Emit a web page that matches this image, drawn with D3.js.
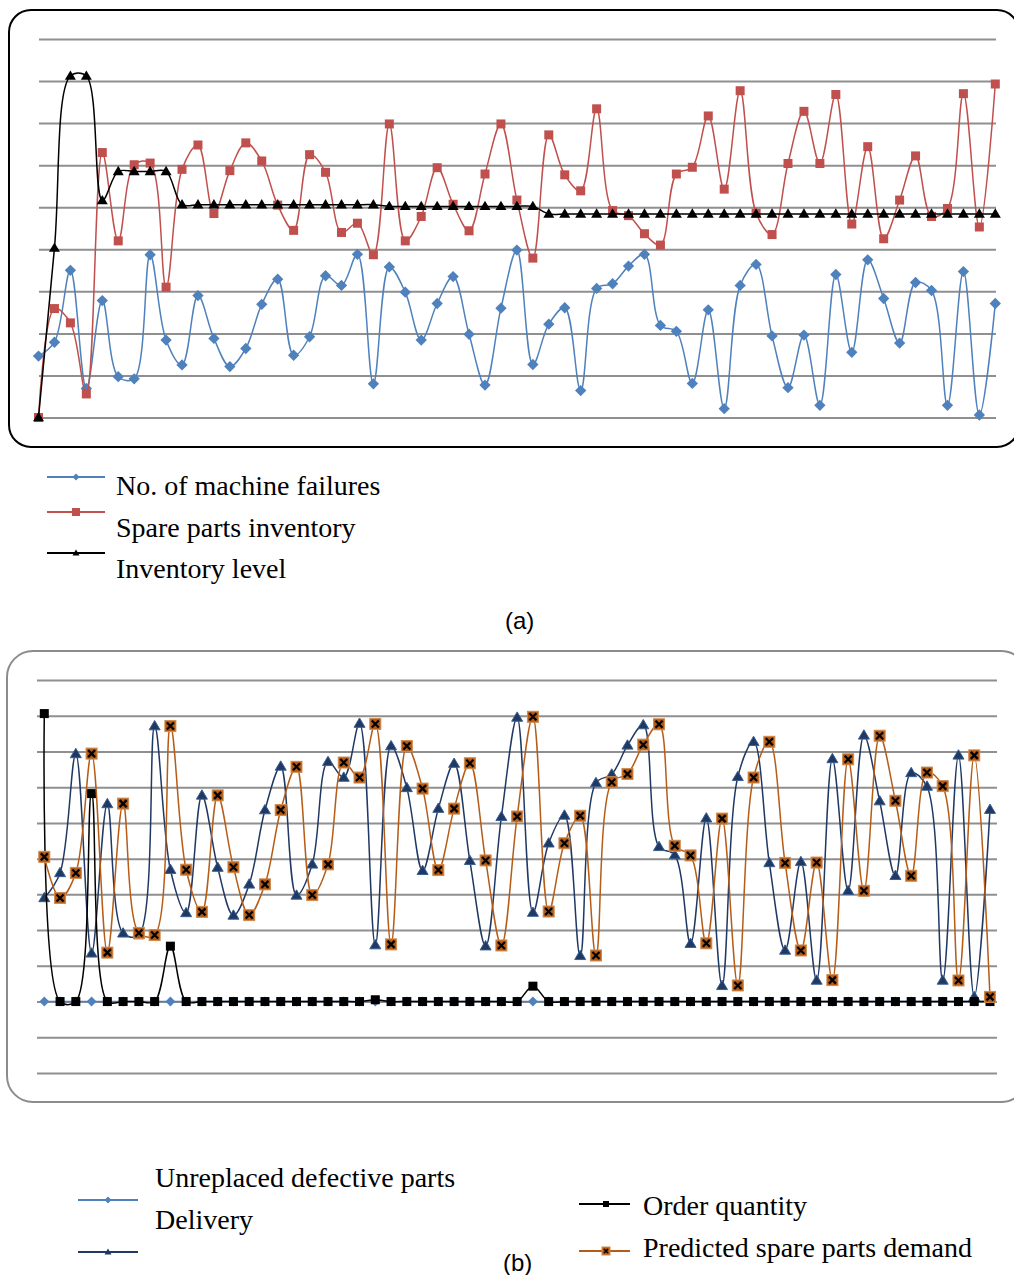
<!DOCTYPE html>
<html>
<head>
<meta charset="utf-8">
<script src="https://cdn.jsdelivr.net/npm/d3@7"></script>
<style>
  body { margin: 0; background: #fff; }
  svg { display: block; }
</style>
</head>
<body>
<div id="chart"></div>
<script>
// ---- data: panel (a), 61 periods ----
var failures = [1.46,1.79,3.50,0.69,2.78,0.97,0.92,3.87,1.84,1.25,
                2.90,1.88,1.21,1.64,2.69,3.29,1.48,1.92,3.37,3.14,
                3.88,0.80,3.58,2.98,1.84,2.71,3.35,1.98,0.77,2.60,
                3.98,1.26,2.22,2.61,0.64,3.07,3.18,3.60,3.88,2.19,
                2.05,0.81,2.56,0.21,3.14,3.64,1.94,0.71,1.96,0.29,
                3.40,1.55,3.75,2.83,1.77,3.21,3.02,0.29,3.47,0.06,2.71];
var spareInventory = [0,2.59,2.25,0.56,6.30,4.20,6.01,6.05,3.10,5.90,
                6.48,4.85,5.87,6.53,6.10,5.05,4.45,6.25,5.83,4.40,
                4.62,3.87,6.98,4.20,4.78,5.94,5.07,4.44,5.79,6.98,
                5.17,3.79,6.72,5.77,5.39,7.34,4.92,4.80,4.37,4.10,
                5.79,5.95,7.17,5.43,7.77,4.86,4.35,6.04,7.28,6.04,
                7.68,4.60,6.44,4.25,5.17,6.22,4.78,4.97,7.70,4.53,7.93];
var inventoryLevel = [0,4.03,8.12,8.12,5.16,5.85,5.85,5.85,5.85,5.06,
                5.06,5.06,5.06,5.06,5.06,5.06,5.06,5.06,5.06,5.06,
                5.06,5.06,5.02,5.02,5.02,5.02,5.02,5.02,5.02,5.02,
                5.02,5.02,4.84,4.84,4.84,4.84,4.84,4.84,4.84,4.84,
                4.84,4.84,4.84,4.84,4.84,4.84,4.84,4.84,4.84,4.84,
                4.84,4.84,4.84,4.84,4.84,4.84,4.84,4.84,4.84,4.84,4.84];

// ---- data: panel (b), 61 periods ----
var unreplaced = [0,0,0,0,0,0,0,0,0,0, 0,0,0,0,0,0,0,0,0,0,
                  0,0,0,0,0,0,0,0,0,0, 0,0,0,0,0,0,0,0,0,0,
                  0,0,0,0,0,0,0,0,0,0, 0,0,0,0,0,0,0,0,0,0,0];
var delivery = [2.90,3.60,6.93,1.35,5.53,1.91,1.86,7.71,3.69,2.48,
                5.77,3.75,2.41,3.28,5.36,6.58,2.97,3.84,6.71,6.27,
                7.78,1.58,7.15,5.98,3.66,5.40,6.66,3.94,1.55,5.17,
                7.95,2.49,4.43,5.21,1.28,6.12,6.36,7.17,7.74,4.33,
                4.10,1.62,5.13,0.44,6.29,7.27,3.88,1.43,3.91,0.59,
                6.79,3.10,7.45,5.61,3.52,6.40,6.02,0.59,6.89,0.13,5.37];
var orderQty = [8.06,0,0,5.82,0,0,0,0,1.55,0, 0,0,0,0,0,0,0,0,0,0,
                0,0.05,0,0,0,0,0,0,0,0, 0,0.43,0,0,0,0,0,0,0,0,
                0,0,0,0,0,0,0,0,0,0, 0,0,0,0,0,0,0,0,0,0,0];
var predictedDemand = [4.05,2.90,3.60,6.94,1.37,5.54,1.92,1.86,7.71,3.69,
                2.51,5.77,3.76,2.42,3.28,5.36,6.57,2.98,3.84,6.69,
                6.27,7.77,1.60,7.15,5.96,3.68,5.40,6.67,3.95,1.57,
                5.18,7.97,2.52,4.43,5.20,1.29,6.14,6.37,7.19,7.76,
                4.36,4.09,1.63,5.12,0.45,6.27,7.27,3.88,1.43,3.89,
                0.60,6.78,3.10,7.44,5.62,3.52,6.41,6.03,0.59,6.89,0.13];

var ticksA = [0,1,2,3,4,5,6,7,8,9];
var ticksB = [-2,-1,0,1,2,3,4,5,6,7,8,9];

var legendA = ["No. of machine failures", "Spare parts inventory", "Inventory level"];
var legendB = ["Unreplaced defective parts", "Delivery", "Order quantity", "Predicted spare parts demand"];

var palette = {
  blue: "#4f81bd",
  red: "#c0504d",
  black: "#000000",
  navy: "#1f3864",
  orange: "#b65c17",
  orangeFill: "#b35a14",
  grid: "#8f8f8f"
};

var width = 1014, height = 1275;
var svg = d3.select("#chart").append("svg")
    .attr("width", width).attr("height", height);

var serif = "'Liberation Serif', 'Times New Roman', serif";
var sans = "'Liberation Sans', Arial, sans-serif";

// centripetal catmull-rom keeps the overshoot small, like the spreadsheet smoothing
var curve = d3.curveCatmullRom.alpha(0.5);

function drawSeries(g, data, x, y, color, marker) {
  var line = d3.line()
    .x(function(d, i) { return x(i); })
    .y(function(d) { return y(d); })
    .curve(curve);
  g.append("path")
    .datum(data)
    .attr("d", line)
    .attr("fill", "none")
    .attr("stroke", color)
    .attr("stroke-width", 1.5);

  var m = g.selectAll(null).data(data).enter().append("g")
    .attr("transform", function(d, i) { return "translate(" + x(i) + "," + y(d) + ")"; });
  marker(m);
}

function diamondMarker(color, s) {
  return function(m) {
    m.append("rect")
      .attr("x", -s/2).attr("y", -s/2).attr("width", s).attr("height", s)
      .attr("transform", "rotate(45)")
      .attr("fill", color);
  };
}
function squareMarker(color, s, stroke) {
  return function(m) {
    m.append("rect")
      .attr("x", -s/2).attr("y", -s/2).attr("width", s).attr("height", s)
      .attr("fill", color)
      .attr("stroke", stroke || "none")
      .attr("stroke-width", 1);
  };
}
function triangleMarker(color, w, stroke) {
  var h = w * 0.85;
  return function(m) {
    m.append("path")
      .attr("d", "M0," + (-h*0.6) + "L" + (w/2) + "," + (h*0.4) + "L" + (-w/2) + "," + (h*0.4) + "Z")
      .attr("fill", color)
      .attr("stroke", stroke || "none")
      .attr("stroke-width", 1);
  };
}
function crossMarker(fill, s, sw) {
  return function(m) {
    m.append("rect")
      .attr("x", -s/2).attr("y", -s/2).attr("width", s).attr("height", s)
      .attr("fill", fill)
      .attr("stroke", "#d08a4e")
      .attr("stroke-width", 1);
    var c = s/2 - 2;
    m.append("path")
      .attr("d", "M" + (-c) + "," + (-c) + "L" + c + "," + c + "M" + c + "," + (-c) + "L" + (-c) + "," + c)
      .attr("stroke", "#000")
      .attr("stroke-width", sw || 2);
  };
}

// ===================== panel (a) =====================
svg.append("rect")
  .attr("x", 9).attr("y", 10).attr("width", 1010).attr("height", 437)
  .attr("rx", 22).attr("ry", 22)
  .attr("fill", "none").attr("stroke", "#000").attr("stroke-width", 2);

var xA = d3.scaleLinear().domain([0, 60]).range([38.5, 995.3]);
var yA = d3.scaleLinear().domain([0, 9]).range([417.5, 39]);

var gA = svg.append("g");
gA.append("g").attr("transform", "translate(39,0)")
  .call(d3.axisLeft(yA).tickValues(ticksA).tickSize(-957).tickFormat(""))
  .call(function(g) {
    g.select(".domain").remove();
    g.selectAll(".tick line").attr("stroke", palette.grid).attr("stroke-width", 2);
  });

drawSeries(gA, failures, xA, yA, palette.blue, diamondMarker(palette.blue, 8));
drawSeries(gA, spareInventory, xA, yA, palette.red, squareMarker(palette.red, 9));
drawSeries(gA, inventoryLevel, xA, yA, palette.black, triangleMarker(palette.black, 11));

// legend (a)
var legA = svg.append("g");
var legAy = [477, 512, 553];
var legAbase = [495, 537, 578];
var legAmark = [diamondMarker(palette.blue, 5), squareMarker(palette.red, 8), triangleMarker("#000", 7)];
var legAcol = [palette.blue, palette.red, palette.black];
legendA.forEach(function(t, k) {
  legA.append("line").attr("x1", 47).attr("x2", 105).attr("y1", legAy[k]).attr("y2", legAy[k])
    .attr("stroke", legAcol[k]).attr("stroke-width", 2);
  var m = legA.append("g").attr("transform", "translate(76," + legAy[k] + ")");
  legAmark[k](m);
  legA.append("text").attr("x", 116).attr("y", legAbase[k]).text(t)
    .attr("font-family", serif).attr("font-size", 28).attr("fill", "#000");
});

svg.append("text").attr("x", 505).attr("y", 629).text("(a)")
  .attr("font-family", sans).attr("font-size", 24).attr("fill", "#000");

// ===================== panel (b) =====================
svg.append("rect")
  .attr("x", 7).attr("y", 651).attr("width", 1020).attr("height", 451)
  .attr("rx", 26).attr("ry", 26)
  .attr("fill", "none").attr("stroke", "#8c8c8c").attr("stroke-width", 2);

var xB = d3.scaleLinear().domain([0, 60]).range([44.3, 990]);
var yB = d3.scaleLinear().domain([-2, 9]).range([1073, 680]);

var gB = svg.append("g");
gB.append("g").attr("transform", "translate(37,0)")
  .call(d3.axisLeft(yB).tickValues(ticksB).tickSize(-960).tickFormat(""))
  .call(function(g) {
    g.select(".domain").remove();
    g.selectAll(".tick line").attr("stroke", palette.grid).attr("stroke-width", 2);
  });

drawSeries(gB, unreplaced, xB, yB, palette.blue, diamondMarker(palette.blue, 7));
drawSeries(gB, delivery, xB, yB, palette.navy, triangleMarker(palette.navy, 11, "#3a5f8f"));
drawSeries(gB, orderQty, xB, yB, palette.black, squareMarker(palette.black, 9));
drawSeries(gB, predictedDemand, xB, yB, palette.orange, crossMarker(palette.orangeFill, 11, 2.2));

// legend (b)
var legB = svg.append("g");
var legBpos = [
  { lx1: 78, lx2: 138, ly: 1200, mx: 108, tx: 155, ty: 1187, color: palette.blue, mark: diamondMarker(palette.blue, 5) },
  { lx1: 78, lx2: 138, ly: 1252, mx: 108, tx: 155, ty: 1229, color: palette.navy, mark: triangleMarker(palette.navy, 7) },
  { lx1: 579, lx2: 630, ly: 1204, mx: 606, tx: 643, ty: 1215, color: palette.black, mark: squareMarker("#000", 6) },
  { lx1: 579, lx2: 630, ly: 1251, mx: 606, tx: 643, ty: 1257, color: palette.orange, mark: crossMarker(palette.orangeFill, 8, 1.5) }
];
legendB.forEach(function(t, k) {
  var p = legBpos[k];
  legB.append("line").attr("x1", p.lx1).attr("x2", p.lx2).attr("y1", p.ly).attr("y2", p.ly)
    .attr("stroke", p.color).attr("stroke-width", 2);
  var m = legB.append("g").attr("transform", "translate(" + p.mx + "," + p.ly + ")");
  p.mark(m);
  legB.append("text").attr("x", p.tx).attr("y", p.ty).text(t)
    .attr("font-family", serif).attr("font-size", 28).attr("fill", "#000");
});

svg.append("text").attr("x", 503).attr("y", 1271).text("(b)")
  .attr("font-family", sans).attr("font-size", 24).attr("fill", "#000");
</script>
</body>
</html>
